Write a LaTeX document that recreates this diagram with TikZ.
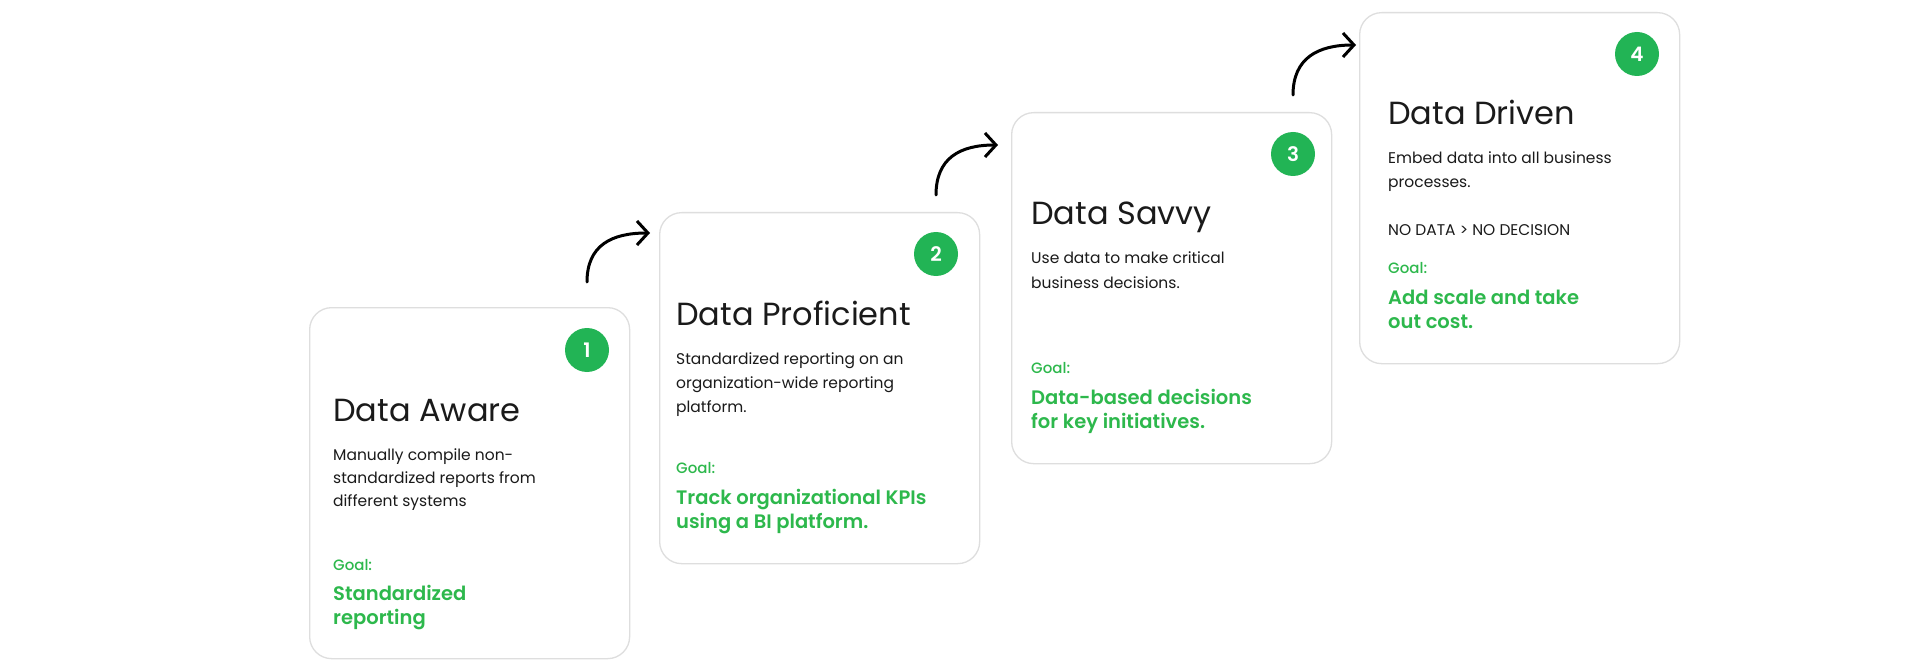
\documentclass[tikz,border=0pt]{standalone}
\usepackage{fontspec}
\setmainfont{Poppins}
\newfontfamily\semib{Poppins SemiBold}
\newfontfamily\medf{Poppins Medium}
\usetikzlibrary{arrows.meta}
\definecolor{cgreen}{HTML}{22B455}
\definecolor{tgreen}{HTML}{2DB84C}
\definecolor{cborder}{HTML}{DEDEDE}
\definecolor{ink}{HTML}{1A1A1A}
\tikzset{
 card/.style={draw=cborder, line width=1.3pt, rounded corners=22pt, fill=white, anchor=north west, minimum width=320pt, minimum height=351pt, inner sep=0pt},
 badge/.style={circle, fill=cgreen, minimum size=44pt, inner sep=0pt, text=white, font=\fontsize{20}{20}\selectfont\semib},
 ttl/.style={anchor=base west, inner sep=0pt, text=ink, font=\fontsize{32}{32}\selectfont},
 bodyt/.style={anchor=base west, inner sep=0pt, text=ink, font=\fontsize{15.5}{15.5}\selectfont},
 goalt/.style={anchor=base west, inner sep=0pt, text=tgreen, font=\fontsize{15}{15}\selectfont\medf},
 goalb/.style={anchor=base west, inner sep=0pt, text=tgreen, font=\fontsize{19.5}{19.5}\selectfont\semib},
 stepar/.style={line width=3pt, line cap=round, -{Straight Barb[length=11pt,width=24pt,line width=3pt]}}
}
\begin{document}
\begin{tikzpicture}[x=1pt,y=-1pt]
\useasboundingbox[fill=white] (0,0) rectangle (1920,671);
% card 1
\node[card] (c1) at (309,307) {};
\node[badge] (b1) at (587,350) {1};
\node[ttl] (t1) at (333,421) {Data Aware};
\node[bodyt] (d1a) at (333,460) {Manually compile non-};
\node[bodyt] (d1b) at (333,483) {standardized reports from};
\node[bodyt] (d1c) at (333,506) {different systems};
\node[goalt] (g1) at (333,570) {Goal:};
\node[goalb] (h1a) at (333,600) {Standardized};
\node[goalb] (h1b) at (333,624) {reporting};
% card 2
\node[card] (c2) at (659,212) {};
\node[badge] (b2) at (936,254) {2};
\node[ttl] (t2) at (676,325) {Data Proficient};
\node[bodyt] (d2a) at (676,364) {Standardized reporting on an};
\node[bodyt] (d2b) at (676,388) {organization-wide reporting};
\node[bodyt] (d2c) at (676,412) {platform.};
\node[goalt] (g2) at (676,473) {Goal:};
\node[goalb] (h2a) at (676,504) {Track organizational KPIs};
\node[goalb] (h2b) at (676,528) {using a BI platform.};
% card 3
\node[card] (c3) at (1011,112) {};
\node[badge] (b3) at (1293,154) {3};
\node[ttl] (t3) at (1031,225) {Data Savvy};
\node[bodyt] (d3a) at (1031,264) {Use data to make critical};
\node[bodyt] (d3b) at (1031,288) {business decisions.};
\node[goalt] (g3) at (1031,373) {Goal:};
\node[goalb] (h3a) at (1031,404) {Data-based decisions};
\node[goalb] (h3b) at (1031,428) {for key initiatives.};
% card 4
\node[card] (c4) at (1359,12) {};
\node[badge] (b4) at (1637,54) {4};
\node[ttl] (t4) at (1388,125) {Data Driven};
\node[bodyt] (d4a) at (1388,164) {Embed data into all business};
\node[bodyt] (d4b) at (1388,188) {processes.};
\node[bodyt] (d4c) at (1388,236) {NO DATA > NO DECISION};
\node[goalt] (g4) at (1388,273) {Goal:};
\node[goalb] (h4a) at (1388,304) {Add scale and take};
\node[goalb] (h4b) at (1388,328) {out cost.};
% arrows
\coordinate (a1s) at (587,282);
\coordinate (a1e) at (650,233);
\coordinate (a2s) at (936,195);
\coordinate (a2e) at (998,145);
\coordinate (a3s) at (1293,95);
\coordinate (a3e) at (1356,45);
\draw[stepar] (a1s) .. controls +(0,-37) and +(-38,0) .. (a1e);
\draw[stepar] (a2s) .. controls +(0,-37) and +(-38,0) .. (a2e);
\draw[stepar] (a3s) .. controls +(0,-37) and +(-38,0) .. (a3e);
\end{tikzpicture}
\end{document}
